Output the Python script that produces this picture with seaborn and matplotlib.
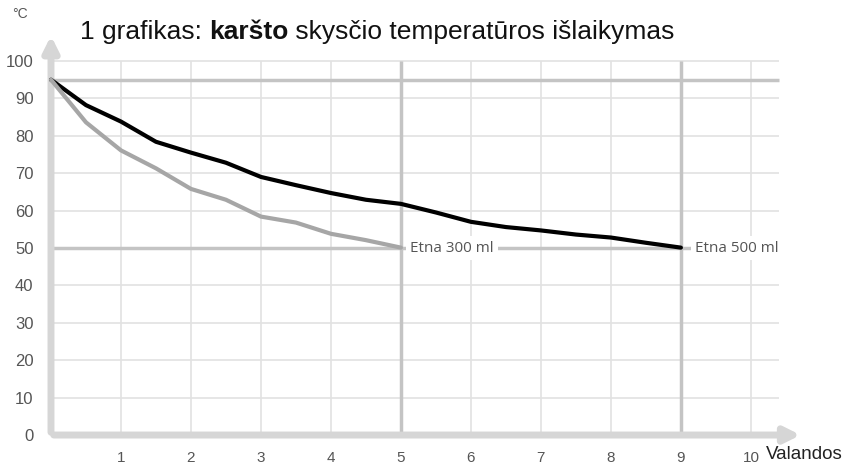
import numpy as np
import pandas as pd
import matplotlib
matplotlib.use("Agg")
import matplotlib.pyplot as plt
import seaborn as sns

# ---------------------------------
# Data
# ---------------------------------
hours_500 = [0, 0.5, 1, 1.5, 2, 2.5, 3, 3.5, 4, 4.5, 5, 5.5, 6, 6.5, 7, 7.5, 8, 8.5, 9]
temp_500 = [95, 88.2, 83.8, 78.4, 75.5, 72.8, 69.0, 66.8, 64.7, 62.9, 61.8, 59.5, 57.0, 55.6, 54.7, 53.6, 52.8, 51.4, 50.1]

hours_300 = [0, 0.5, 1, 1.5, 2, 2.5, 3, 3.5, 4, 4.5, 5]
temp_300 = [95, 83.6, 76.1, 71.3, 65.8, 62.9, 58.4, 56.8, 53.8, 52.1, 50.1]

x_ticks = [1, 2, 3, 4, 5, 6, 7, 8, 9, 10]
y_ticks = [0, 10, 20, 30, 40, 50, 60, 70, 80, 90, 100]

df = pd.concat([
    pd.DataFrame({"h": hours_500, "t": temp_500, "s": "Etna 500 ml"}),
    pd.DataFrame({"h": hours_300, "t": temp_300, "s": "Etna 300 ml"}),
])

sns.set_style("white")
plt.rcParams["font.family"] = ["Liberation Sans", "DejaVu Sans"]

fig = plt.figure(figsize=(8.48, 4.66), dpi=100)
ax = fig.add_axes([0.056, 0.0504, 0.912, 0.899])
ax.set_xlim(-0.05, 11.0)
ax.set_ylim(-2, 110)
for sp in ax.spines.values():
    sp.set_visible(False)

# grid
grid_c = "#e2e2e2"
ax.hlines(y_ticks[1:], 0, 10.4, color=grid_c, lw=1.2, zorder=1)
ax.vlines(x_ticks, 0, 100, color=grid_c, lw=1.2, zorder=1)

# reference lines
ref_c = "#c4c4c4"
ax.hlines([95, 50], 0, 10.4, color=ref_c, lw=2.5, zorder=2)
ax.vlines([5, 9], 0, 100, color=ref_c, lw=2.5, zorder=2)

# axis arrows
arr_c = "#d6d6d6"
ax.annotate("", xy=(10.75, 0), xytext=(0, 0),
            arrowprops=dict(arrowstyle="-|>,head_length=0.9,head_width=0.45", color=arr_c, lw=5),
            zorder=2)
ax.annotate("", xy=(0, 107.5), xytext=(0, 0),
            arrowprops=dict(arrowstyle="-|>,head_length=0.9,head_width=0.45", color=arr_c, lw=5),
            zorder=2)

sns.lineplot(data=df, x="h", y="t", hue="s",
             palette={"Etna 500 ml": "#000000", "Etna 300 ml": "#a6a6a6"},
             linewidth=3, legend=False, ax=ax, zorder=4)

ax.text(5.13, 50, "Etna 300 ml", fontsize=11, color="#555555", va="center", ha="left",
        bbox=dict(facecolor="white", edgecolor="none", pad=3), zorder=5,
        family=["Open Sans", "DejaVu Sans"])
ax.text(9.2, 50, "Etna 500 ml", fontsize=11, color="#555555", va="center", ha="left",
        bbox=dict(facecolor="white", edgecolor="none", pad=3), zorder=5,
        family=["Open Sans", "DejaVu Sans"])

ax.set_xticks(x_ticks)
ax.set_xticklabels([str(v) for v in x_ticks])
ax.set_yticks(y_ticks)
ax.set_yticklabels([str(v) for v in y_ticks])
ax.tick_params(axis="both", length=0, labelsize=12, colors="#555555")
ax.tick_params(axis="x", pad=6, labelsize=11)
ax.tick_params(axis="y", pad=10)
ax.set_xlabel("")
ax.set_ylabel("")

fig.text(0.903, 0.006, "Valandos", fontsize=13.5, color="#222222", ha="left", va="bottom")
fig.text(0.014, 0.955, "°C", fontsize=10, color="#555555", ha="left", va="bottom")

ty = 0.905
t1 = fig.text(0.094, ty, "1 grafikas: ", fontsize=19, color="#111111", ha="left", va="bottom")
fig.canvas.draw()
r = fig.canvas.get_renderer()
x1 = t1.get_window_extent(r).x1 / fig.bbox.width
t2 = fig.text(x1, ty, "karšto", fontsize=19, fontweight="bold", color="#111111", ha="left", va="bottom")
x2 = t2.get_window_extent(r).x1 / fig.bbox.width
fig.text(x2, ty, " skysčio temperatūros išlaikymas", fontsize=19, color="#111111", ha="left", va="bottom")

fig.savefig("out.png", dpi=100)
